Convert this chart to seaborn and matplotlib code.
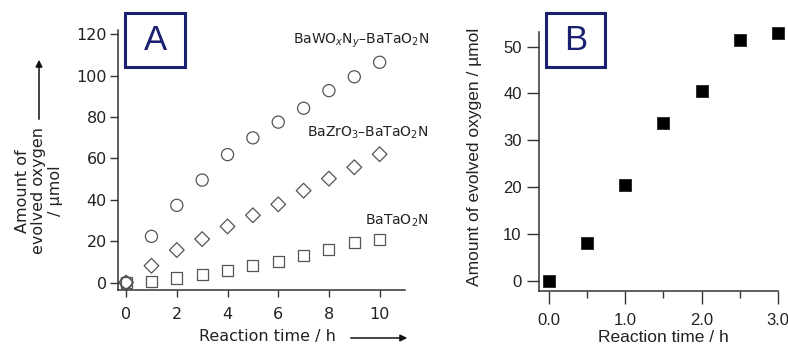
import matplotlib
matplotlib.use("Agg")
import matplotlib.pyplot as plt
import seaborn as sns
import pandas as pd
from matplotlib.patches import Rectangle

# ---------------- data ----------------
time_a = [0, 1, 2, 3, 4, 5, 6, 7, 8, 9, 10]
bawo_ta = [0, 22.3, 37.3, 49.5, 61.8, 69.9, 77.5, 84.2, 92.7, 99.4, 106.4]
bazr_ta = [0, 8.1, 15.7, 21.0, 27.1, 32.5, 37.8, 44.4, 50.2, 55.7, 62.0]
bata = [0, 0.7, 2.2, 3.7, 5.7, 8.1, 10.3, 13.3, 16.2, 19.3, 21.0]
series_labels = [r"BaWO$_x$N$_y$–BaTaO$_2$N", r"BaZrO$_3$–BaTaO$_2$N", r"BaTaO$_2$N"]

time_b = [0.0, 0.5, 1.0, 1.5, 2.0, 2.5, 3.0]
oxygen_b = [0.0, 8.1, 20.4, 33.7, 40.5, 51.5, 52.9]

xticks_a = [0, 2, 4, 6, 8, 10]
yticks_a = [0, 20, 40, 60, 80, 100, 120]
xticks_b = [0.0, 1.0, 2.0, 3.0]
xticks_b_minor = [0.5, 1.5, 2.5]
yticks_b = [0, 10, 20, 30, 40, 50]

# ---------------- style ----------------
sns.set_style("ticks")
plt.rcParams["font.family"] = ["DejaVu Sans"]
plt.rcParams["mathtext.fontset"] = "dejavusans"

W, H = 788, 348
fig = plt.figure(figsize=(W / 100, H / 100), dpi=100)

def px_axes(l, t, r, b):
    return fig.add_axes([l / W, 1 - b / H, (r - l) / W, (b - t) / H])

navy = "#1c2070"
edge = "#555555"
spine_c = "#333333"

# ---------------- panel A ----------------
axA = px_axes(118, 30, 405, 290)
df_sq = pd.DataFrame({"t": time_a, "v": bata})
df_di = pd.DataFrame({"t": time_a, "v": bazr_ta})
df_ci = pd.DataFrame({"t": time_a, "v": bawo_ta})
common = dict(facecolor="none", edgecolor=edge, linewidth=0.9, clip_on=False, ax=axA, legend=False)
sns.scatterplot(data=df_sq, x="t", y="v", marker="s", s=63, **common)
sns.scatterplot(data=df_di, x="t", y="v", marker="D", s=56, **common)
sns.scatterplot(data=df_ci, x="t", y="v", marker="o", s=76, **common)

axA.set_xlim(-0.32, 11.0)
axA.set_ylim(-3.6, 122)
axA.set_xticks(xticks_a)
axA.set_yticks(yticks_a)
for sp in ["top", "right"]:
    axA.spines[sp].set_visible(False)
for sp in ["left", "bottom"]:
    axA.spines[sp].set_linewidth(1.1)
    axA.spines[sp].set_color(spine_c)
axA.tick_params(axis="y", length=6, width=1.0, pad=2, labelsize=11.5, color=spine_c, labelcolor="#222222")
axA.tick_params(axis="x", length=5, width=1.0, pad=7, labelsize=11.5, color=spine_c, labelcolor="#222222")

axA.set_xlabel("Reaction time / h", fontsize=11.5, color="#222222")
axA.xaxis.set_label_coords((267 - 118) / 287, (290 - 337) / 260)
axA.xaxis.label.set_va("center")
axA.set_ylabel("Amount of\nevolved oxygen\n/ µmol", fontsize=11.5, color="#222222", linespacing=1.15)
axA.yaxis.set_label_coords((39 - 118) / 287, (290 - 191) / 260)
axA.yaxis.label.set_va("center")
axA.yaxis.label.set_multialignment("center")

label_y = [115.4, 70.7, 28.0]
for txt, yy in zip(series_labels, label_y):
    axA.text(11.94, yy, txt, ha="right", va="baseline", fontsize=10, color="#222222", clip_on=False)

# arrows
fig.patches.append(matplotlib.patches.FancyArrowPatch(
    (39 / W, 1 - 122 / H), (39 / W, 1 - 57 / H), transform=fig.transFigure,
    arrowstyle="-|>,head_length=4,head_width=2", color="#111111", lw=1.1))
fig.patches.append(matplotlib.patches.FancyArrowPatch(
    (348 / W, 1 - 338 / H), (410 / W, 1 - 338 / H), transform=fig.transFigure,
    arrowstyle="-|>,head_length=4,head_width=2", color="#111111", lw=1.1))

# ---------------- panel B ----------------
axB = px_axes(539, 32, 778, 290.7)
df_b = pd.DataFrame({"t": time_b, "v": oxygen_b})
sns.scatterplot(data=df_b, x="t", y="v", marker="s", s=84, color="black", edgecolor="#222222",
                linewidth=0.6, clip_on=False, ax=axB, legend=False, zorder=3)
axB.set_xlim(-0.13, 3.0)
axB.set_ylim(-2.07, 53.1)
axB.set_xticks(xticks_b)
axB.set_xticks(xticks_b_minor, minor=True)
axB.set_xticklabels([f"{v:.1f}" for v in xticks_b])
axB.set_yticks(yticks_b)
for sp in ["top", "right"]:
    axB.spines[sp].set_visible(False)
for sp in ["left", "bottom"]:
    axB.spines[sp].set_linewidth(1.1)
    axB.spines[sp].set_color(spine_c)
fontB = "Liberation Sans"
axB.tick_params(axis="y", length=9, width=1.0, pad=3.5, labelsize=12, color=spine_c, labelcolor="#222222")
axB.tick_params(axis="x", which="major", length=9, width=1.0, pad=7, labelsize=12, color=spine_c, labelcolor="#222222")
axB.tick_params(axis="x", which="minor", length=5, width=1.0, color=spine_c)
for lab in axB.get_xticklabels() + axB.get_yticklabels():
    lab.set_family(fontB)
axB.set_xlabel("Reaction time / h", fontsize=12.5, family=fontB, color="#222222")
axB.xaxis.set_label_coords((663 - 539) / 239, (290.7 - 338) / 258.7)
axB.xaxis.label.set_va("center")
axB.set_ylabel("Amount of evolved oxygen / µmol", fontsize=12.5, family=fontB, color="#222222")
axB.yaxis.set_label_coords((475 - 539) / 239, (290.7 - 157) / 258.7)
axB.yaxis.label.set_va("center")

# ---------------- panel boxes ----------------
for (l, t, r, b), letter in [((125, 13, 185, 67), "A"), ((546, 13, 605, 67), "B")]:
    fig.patches.append(Rectangle((l / W, 1 - b / H), (r - l) / W, (b - t) / H, transform=fig.transFigure,
                                 fill=False, edgecolor=navy, linewidth=2.2))
    fig.text((l + r) / 2 / W, 1 - (t + b) / 2 / H, letter, ha="center", va="center",
             fontsize=25, color=navy, family="Liberation Sans")

fig.savefig("out.png", dpi=100)
